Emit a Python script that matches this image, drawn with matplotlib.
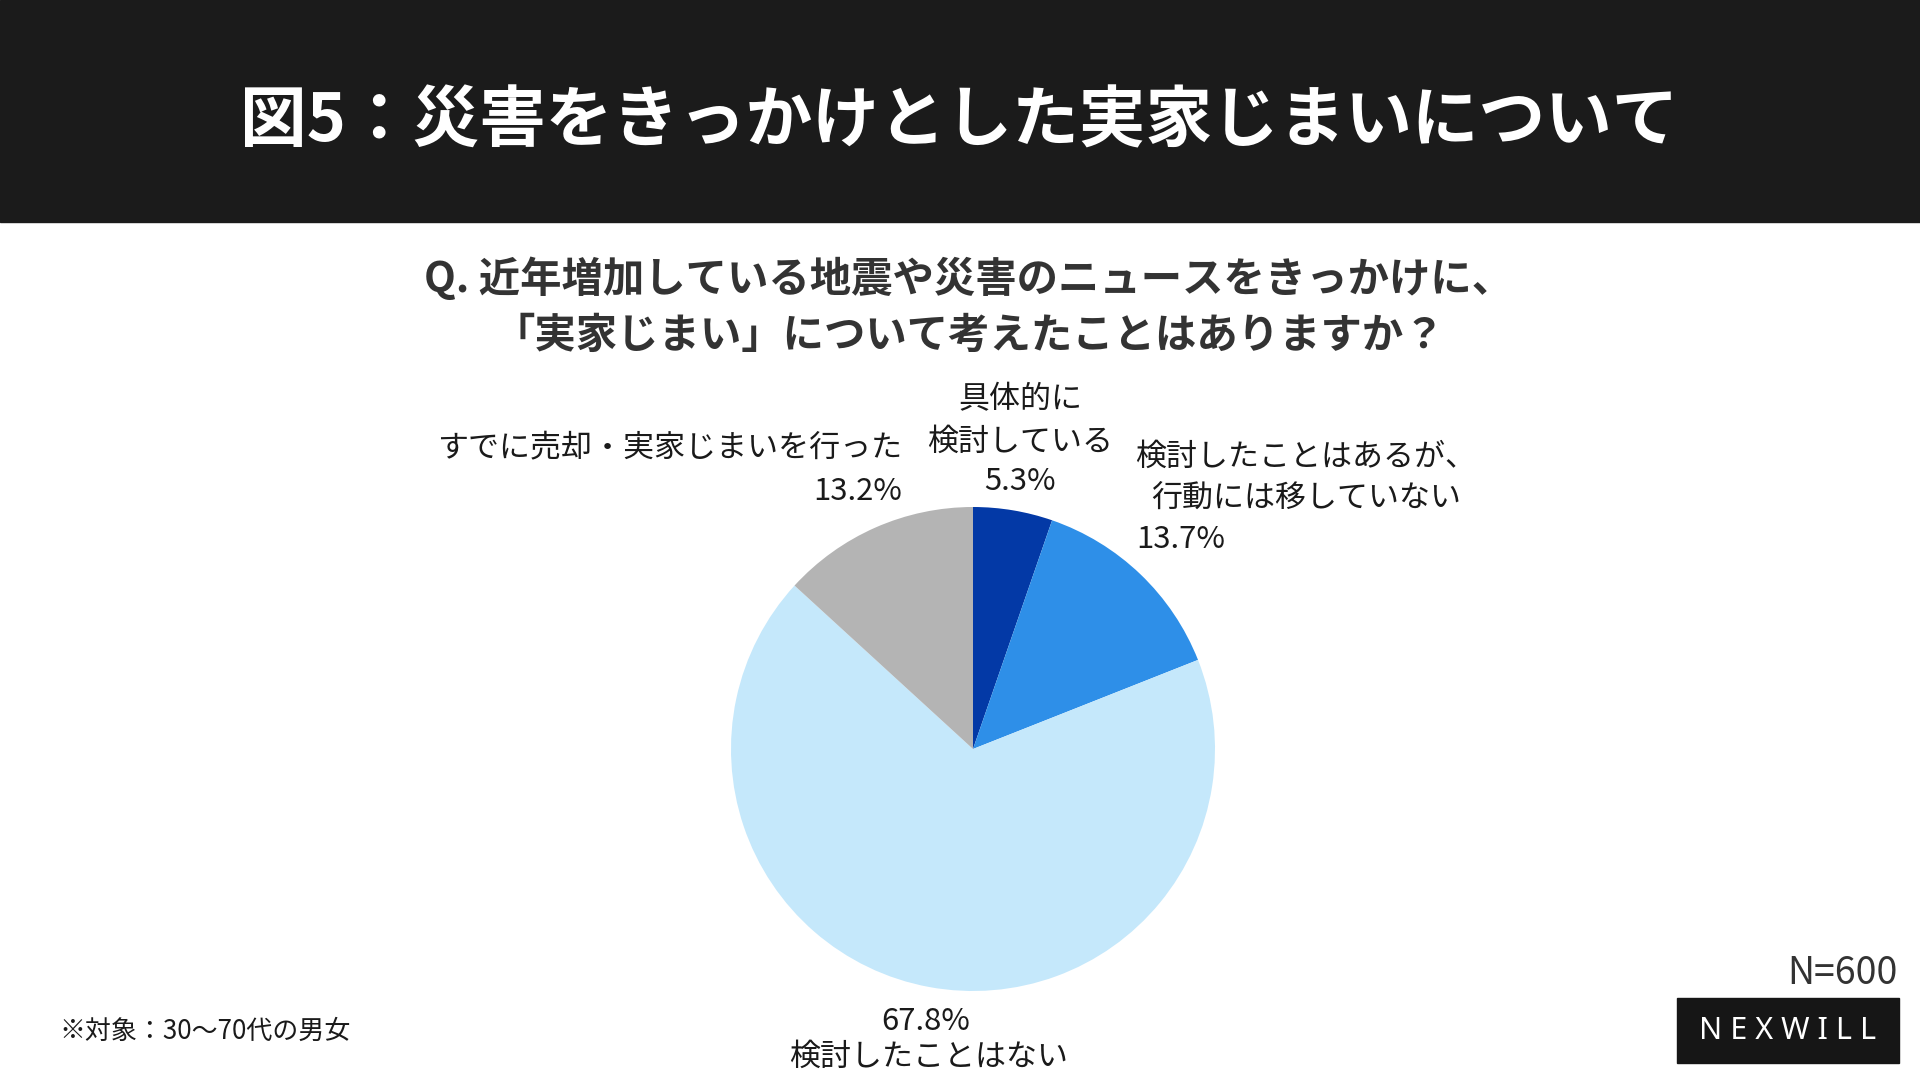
import matplotlib
matplotlib.use('Agg')
import matplotlib.pyplot as plt
from matplotlib.patches import Rectangle

plt.rcParams['font.family'] = ['Noto Sans CJK JP', 'DejaVu Sans']

# data
labels = ['具体的に\n検討している', '検討したことはあるが、\n行動には移していない',
          '検討したことはない', 'すでに売却・実家じまいを行った']
values = [5.3, 13.7, 67.8, 13.2]
colors = ['#0339a6', '#2e8fe8', '#c5e8fb', '#b4b4b4']

title = '図5：災害をきっかけとした実家じまいについて'
question = 'Q. 近年増加している地震や災害のニュースをきっかけに、\n「実家じまい」について考えたことはありますか？'
note = '※対象：30〜70代の男女'
n_text = 'N=600'

W, H = 1920, 1080
fig = plt.figure(figsize=(W / 100, H / 100), dpi=100)
ax = fig.add_axes([0, 0, 1, 1])

def Y(y):
    # pixel y from top -> data y
    return H - y

# header band
ax.add_patch(Rectangle((0, Y(222)), W, 222, color='#1b1b1b', zorder=0))
ax.text(959, Y(122), title, color='white', fontsize=48, fontweight='bold',
        ha='center', va='center')

ax.text(969, Y(307), question, color='#333333', fontsize=29.8, fontweight='bold',
        ha='center', va='center', linespacing=1.42)

# pie
ax.pie(values, colors=colors, startangle=90, counterclock=False,
       center=(973, Y(749)), radius=242, frame=True,
       wedgeprops=dict(linewidth=0))

fs = 22.3
tc = '#1a1a1a'
# 5.3%
ax.text(1020, Y(421), labels[0], fontsize=fs, color=tc, ha='center', va='center',
        linespacing=1.45)
ax.text(1020, Y(482), f'{values[0]}%', fontsize=fs, color=tc, ha='center', va='center')
# 13.7%
ax.text(1306, Y(478), labels[1], fontsize=fs, color=tc, ha='center', va='center',
        linespacing=1.4)
ax.text(1136, Y(539), f'{values[1]}%', fontsize=fs, color=tc, ha='left', va='center')
# 13.2%
ax.text(902, Y(448), labels[3], fontsize=fs, color=tc, ha='right', va='center')
ax.text(902, Y(491), f'{values[3]}%', fontsize=fs, color=tc, ha='right', va='center')
# 67.8%
ax.text(926, Y(1021), f'{values[2]}%', fontsize=fs, color=tc, ha='center', va='center')
ax.text(929, Y(1057), labels[2], fontsize=fs, color=tc, ha='center', va='center')

# footer
ax.text(59, Y(1031), note, fontsize=18.7, color=tc, ha='left', va='center')
ax.text(1898, Y(973), n_text, fontsize=27, color='#333333', ha='right', va='center')
ax.add_patch(Rectangle((1677, Y(1063)), 222, 65, color='#161616', zorder=2))
ax.text(1788, Y(1031), 'N E X W I L L', fontsize=22, color='white', ha='center',
        va='center', fontweight='heavy', family='Noto Sans', zorder=3)

ax.set_xlim(0, W)
ax.set_ylim(0, H)
ax.set_aspect('auto')
ax.axis('off')

fig.savefig('out.png', dpi=100, facecolor='white')
